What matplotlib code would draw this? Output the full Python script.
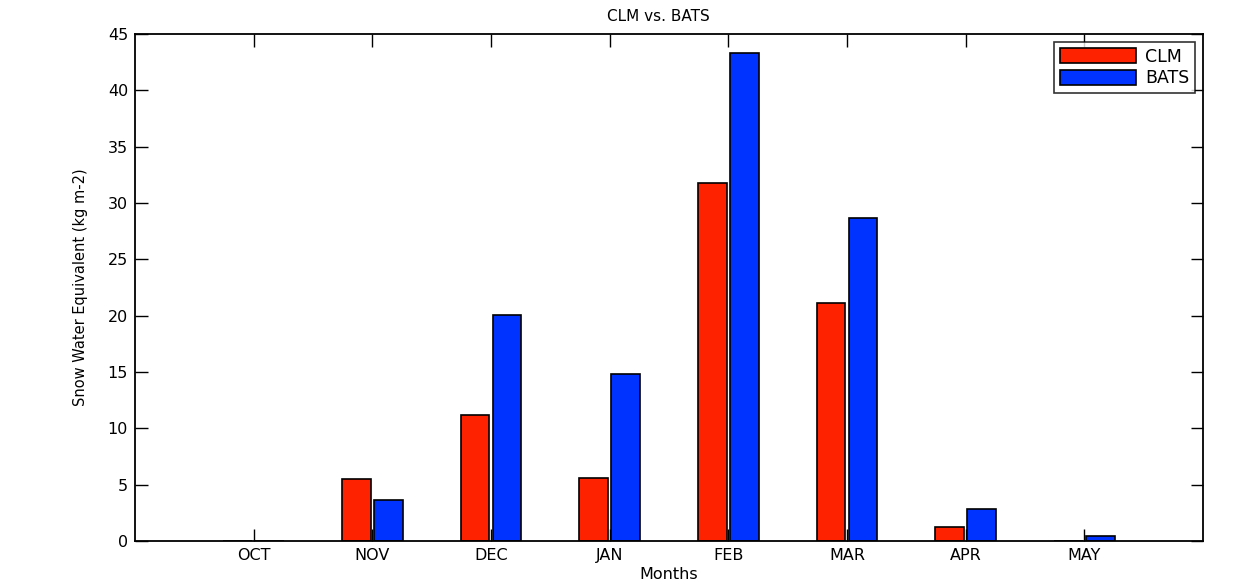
import numpy as np
import matplotlib.pyplot as plt

plt.rcParams['font.family'] = ['DejaVu Sans']

# Monthly snow water equivalent
months = ['OCT', 'NOV', 'DEC', 'JAN', 'FEB', 'MAR', 'APR', 'MAY']
clm = [0.0, 5.5, 11.15, 5.6, 31.8, 21.15, 1.25, 0.0]
bats = [0.0, 3.6, 20.1, 14.8, 43.3, 28.65, 2.85, 0.45]

red = '#ff2200'
blue = '#0033ff'

fig = plt.figure(figsize=(12.33, 5.85), dpi=100)
ax = fig.add_axes([0.1095, 0.0752, 0.8662, 0.8667])

x = np.arange(1, len(months) + 1)
w = 0.24
ax.bar(x - 0.135, clm, w, color=red, edgecolor='black', linewidth=1.2, label='CLM')
ax.bar(x + 0.135, bats, w, color=blue, edgecolor='black', linewidth=1.2, label='BATS')

ax.set_xlim(0, 9)
ax.set_ylim(0, 45)
ax.set_xticks(x)
ax.set_xticklabels(months)
ax.set_yticks(np.arange(0, 46, 5))
ax.tick_params(direction='in', length=9, width=1, top=True, right=True,
               labelsize=11.5, pad=5)
for s in ax.spines.values():
    s.set_linewidth(1.3)

ax.set_title('CLM vs. BATS', fontsize=11, pad=9, x=0.49)
ax.set_xlabel('Months', fontsize=11.5, labelpad=3)
ax.set_ylabel('Snow Water Equivalent (kg m-2)', fontsize=10.5, labelpad=14)

leg = ax.legend(loc='upper right', fontsize=12.5, frameon=True, fancybox=False,
                edgecolor='black', borderaxespad=0.45, handlelength=4.4,
                handleheight=0.95, labelspacing=0.2, borderpad=0.35,
                handletextpad=0.5)
leg.get_frame().set_linewidth(1.2)

fig.savefig('out.png', dpi=100)
